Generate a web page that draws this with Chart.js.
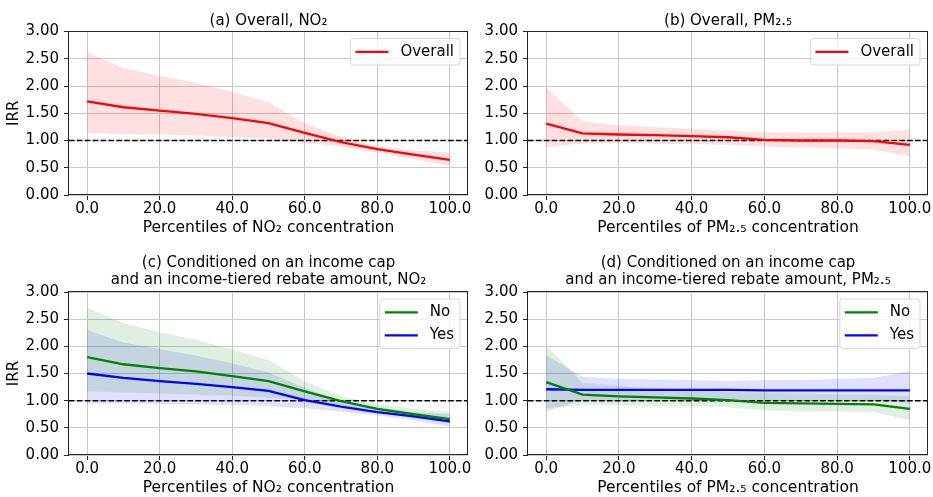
<!DOCTYPE html>
<html><head><meta charset="utf-8">
<script src="https://cdn.jsdelivr.net/npm/chart.js@4.4.1/dist/chart.umd.min.js"></script>
<style>
html,body{margin:0;padding:0;background:#fff;}
#wrap{position:relative;width:933px;height:497px;overflow:hidden;background:#fff;}
.p{position:absolute;}
canvas{display:block;}
</style></head><body>
<div id="wrap">
  <div class="p" style="left:0;top:0;width:478px;height:245px"><canvas id="ca" width="478" height="245"></canvas></div>
  <div class="p" style="left:478px;top:0;width:455px;height:245px"><canvas id="cb" width="455" height="245"></canvas></div>
  <div class="p" style="left:0;top:245px;width:478px;height:252px"><canvas id="cc" width="478" height="252"></canvas></div>
  <div class="p" style="left:478px;top:245px;width:455px;height:252px"><canvas id="cd" width="455" height="252"></canvas></div>
</div>
<script>
// ---------- data ----------
const percentiles = [0, 10, 20, 30, 40, 50, 60, 70, 80, 90, 100];
const xTickValues = [0, 20, 40, 60, 80, 100];
const yTickValues = [0, 0.5, 1, 1.5, 2, 2.5, 3];
const xLimits = [-5, 105];
const yLimits = [0, 3];
const referenceIRR = 1;

// (a) Overall, NO2
const no2Overall     = [1.72, 1.61, 1.55, 1.49, 1.41, 1.32, 1.14, 0.97, 0.84, 0.74, 0.645];
const no2OverallHigh = [2.62, 2.33, 2.19, 2.06, 1.89, 1.70, 1.32, 1.07, 0.89, 0.82, 0.78];
const no2OverallLow  = [1.14, 1.12, 1.11, 1.09, 1.06, 1.04, 0.96, 0.89, 0.78, 0.66, 0.53];

// (b) Overall, PM2.5
const pmOverall     = [1.31, 1.13, 1.11, 1.10, 1.08, 1.06, 1.01, 1.00, 1.00, 0.99, 0.92];
const pmOverallHigh = [1.97, 1.35, 1.28, 1.25, 1.21, 1.18, 1.15, 1.15, 1.15, 1.15, 1.20];
const pmOverallLow  = [0.87, 0.95, 0.95, 0.94, 0.93, 0.92, 0.89, 0.87, 0.86, 0.83, 0.71];

// (c) Conditioned, NO2
const no2No      = [1.80, 1.67, 1.60, 1.54, 1.45, 1.36, 1.17, 0.99, 0.85, 0.75, 0.66];
const no2NoHigh  = [2.71, 2.43, 2.26, 2.12, 1.94, 1.75, 1.36, 1.08, 0.93, 0.85, 0.79];
const no2NoLow   = [1.18, 1.15, 1.13, 1.11, 1.09, 1.06, 1.00, 0.92, 0.80, 0.69, 0.58];
const no2Yes     = [1.50, 1.42, 1.36, 1.31, 1.25, 1.18, 1.01, 0.89, 0.79, 0.71, 0.62];
const no2YesHigh = [2.30, 2.07, 1.95, 1.83, 1.69, 1.52, 1.24, 0.99, 0.87, 0.79, 0.75];
const no2YesLow  = [0.95, 0.95, 0.94, 0.93, 0.92, 0.90, 0.86, 0.80, 0.73, 0.64, 0.52];

// (d) Conditioned, PM2.5
const pmNo      = [1.34, 1.11, 1.08, 1.06, 1.04, 1.01, 0.96, 0.95, 0.94, 0.93, 0.85];
const pmNoHigh  = [2.01, 1.33, 1.27, 1.22, 1.19, 1.16, 1.14, 1.13, 1.12, 1.11, 1.08];
const pmNoLow   = [0.86, 0.93, 0.92, 0.90, 0.90, 0.88, 0.82, 0.80, 0.80, 0.79, 0.64];
const pmYes     = [1.21, 1.20, 1.20, 1.20, 1.20, 1.20, 1.19, 1.19, 1.19, 1.19, 1.19];
const pmYesHigh = [1.84, 1.44, 1.40, 1.39, 1.38, 1.36, 1.38, 1.38, 1.40, 1.42, 1.54];
const pmYesLow  = [0.80, 1.01, 1.00, 1.00, 0.99, 0.98, 0.99, 0.99, 1.00, 1.00, 0.95];

// ---------- helpers ----------
const FONT = '"DejaVu Sans", "Liberation Sans", sans-serif';
const RED = '#ff0000', GREEN = '#008000', BLUE = '#0000ff';

function pts(vals) { return percentiles.map((p, i) => ({x: p, y: vals[i]})); }

function band(upper, lower, rgb) {
  return [
    {data: pts(upper), borderWidth: 0, pointRadius: 0, fill: false, order: 10},
    {data: pts(lower), borderWidth: 0, pointRadius: 0, fill: '-1',
     backgroundColor: 'rgba(' + rgb + ',0.12)', order: 10}
  ];
}
function series(label, vals, color) {
  return {label: label, data: pts(vals), borderColor: color, backgroundColor: color,
          borderWidth: 2.3, pointRadius: 0, fill: false, tension: 0, legend: true, order: 0};
}
function refLine() {
  return {data: [{x: xLimits[0], y: referenceIRR}, {x: xLimits[1], y: referenceIRR}],
          borderColor: '#000', borderWidth: 1.5, borderDash: [5.5, 2.4],
          pointRadius: 0, fill: false, order: 1};
}

const spines = {
  id: 'spines',
  afterDatasetsDraw(chart) {
    const a = chart.chartArea, ctx = chart.ctx;
    ctx.save();
    ctx.strokeStyle = '#262626';
    ctx.lineWidth = 1;
    const l = Math.round(a.left) - 0.5, r = Math.round(a.right) - 0.5;
    const t = Math.round(a.top) - 0.5, b = Math.round(a.bottom) - 0.5;
    ctx.strokeRect(l, t, r - l, b - t);
    ctx.restore();
  }
};

const insetLegend = {
  id: 'insetLegend',
  afterDraw(chart) {
    const items = chart.data.datasets.filter(d => d.legend);
    const ctx = chart.ctx, a = chart.chartArea;
    ctx.save();
    ctx.font = '15px ' + FONT;
    const tw = Math.max.apply(null, items.map(d => ctx.measureText(d.label).width));
    const w = 5 + 33 + 12 + tw + 6;
    const h = 26.5 + (items.length - 1) * 23;
    const x = a.right - 8 - w, y = a.top + 7;
    const rad = 3;
    ctx.beginPath();
    ctx.moveTo(x + rad, y);
    ctx.arcTo(x + w, y, x + w, y + h, rad);
    ctx.arcTo(x + w, y + h, x, y + h, rad);
    ctx.arcTo(x, y + h, x, y, rad);
    ctx.arcTo(x, y, x + w, y, rad);
    ctx.closePath();
    ctx.fillStyle = 'rgba(255,255,255,0.8)';
    ctx.fill();
    ctx.strokeStyle = '#d6d6d6';
    ctx.lineWidth = 1;
    ctx.stroke();
    items.forEach((d, i) => {
      const cy = y + 13.3 + i * 23;
      ctx.beginPath();
      ctx.strokeStyle = d.borderColor;
      ctx.lineWidth = 2.3;
      ctx.moveTo(x + 5, cy);
      ctx.lineTo(x + 38, cy);
      ctx.stroke();
      ctx.fillStyle = '#000';
      ctx.textBaseline = 'middle';
      ctx.textAlign = 'left';
      ctx.fillText(d.label, x + 50, cy);
    });
    ctx.restore();
  }
};

function makePanel(id, cfg) {
  const el = document.getElementById(id);
  return new Chart(el, {
    type: 'line',
    data: {datasets: cfg.datasets},
    plugins: [spines, insetLegend],
    options: {
      responsive: false,
      animation: false,
      devicePixelRatio: 1,
      layout: {padding: {left: 0, right: cfg.padRight, top: 0, bottom: 0}},
      plugins: {
        legend: {display: false},
        tooltip: {enabled: false},
        filler: {drawTime: 'beforeDatasetsDraw', propagate: false},
        title: {
          display: true, text: cfg.title, fullSize: false,
          color: '#000', font: {family: FONT, size: 15, weight: 'normal', lineHeight: 1.1},
          padding: cfg.titlePad
        }
      },
      scales: {
        x: {
          type: 'linear', min: xLimits[0], max: xLimits[1],
          afterBuildTicks: s => { s.ticks = xTickValues.map(v => ({value: v})); },
          afterFit: s => { s.height = cfg.xHeight; },
          ticks: {autoSkip: false, maxRotation: 0, padding: 0.5, color: '#000',
                  font: {family: FONT, size: 15, lineHeight: 1.2},
                  callback: v => Number(v).toFixed(1)},
          grid: {color: '#c8c8c8', lineWidth: 1, drawTicks: true, tickLength: 5,
                 tickColor: '#262626', tickWidth: 1},
          border: {display: false},
          title: {display: true, text: cfg.xTitle, color: '#000',
                  font: {family: FONT, size: 15.5, lineHeight: 1.1},
                  padding: {top: 0, bottom: cfg.xTitlePad}}
        },
        y: {
          type: 'linear', min: yLimits[0], max: yLimits[1],
          afterBuildTicks: s => { s.ticks = yTickValues.map(v => ({value: v})); },
          afterFit: s => { s.width = cfg.yWidth; },
          ticks: {padding: 5, color: '#000', font: {family: FONT, size: 15, lineHeight: 1.2},
                  callback: v => Number(v).toFixed(2)},
          grid: {color: '#c8c8c8', lineWidth: 1, drawTicks: true, tickLength: 5,
                 tickColor: '#262626', tickWidth: 1},
          border: {display: false},
          title: {display: cfg.yTitle !== '', text: cfg.yTitle, color: '#000',
                  font: {family: FONT, size: 15, lineHeight: 1.1},
                  padding: {top: 5.75, bottom: 0}}
        }
      }
    }
  });
}

const topTitlePad = {top: 13, bottom: 2};
const botTitlePad = {top: 10.25, bottom: 3.75};

makePanel('ca', {
  title: '(a) Overall, NO\u2082',
  xTitle: 'Percentiles of NO\u2082 concentration', yTitle: 'IRR',
  titlePad: topTitlePad, xHeight: 50, xTitlePad: 8.7, yWidth: 69, padRight: 10,
  datasets: [series('Overall', no2Overall, RED), refLine(),
             ...band(no2OverallHigh, no2OverallLow, '255,0,0')]
});
makePanel('cb', {
  title: '(b) Overall, PM\u2082.\u2085',
  xTitle: 'Percentiles of PM\u2082.\u2085 concentration', yTitle: '',
  titlePad: topTitlePad, xHeight: 50, xTitlePad: 8.7, yWidth: 50, padRight: 5,
  datasets: [series('Overall', pmOverall, RED), refLine(),
             ...band(pmOverallHigh, pmOverallLow, '255,0,0')]
});
makePanel('cc', {
  title: ['(c) Conditioned on an income cap', 'and an income-tiered rebate amount, NO\u2082'],
  xTitle: 'Percentiles of NO\u2082 concentration', yTitle: 'IRR',
  titlePad: botTitlePad, xHeight: 42, xTitlePad: 0.75, yWidth: 69, padRight: 10,
  datasets: [series('No', no2No, GREEN), series('Yes', no2Yes, BLUE), refLine(),
             ...band(no2NoHigh, no2NoLow, '0,128,0'),
             ...band(no2YesHigh, no2YesLow, '0,0,255')]
});
makePanel('cd', {
  title: ['(d) Conditioned on an income cap', 'and an income-tiered rebate amount, PM\u2082.\u2085'],
  xTitle: 'Percentiles of PM\u2082.\u2085 concentration', yTitle: '',
  titlePad: botTitlePad, xHeight: 42, xTitlePad: 0.75, yWidth: 50, padRight: 5,
  datasets: [series('No', pmNo, GREEN), series('Yes', pmYes, BLUE), refLine(),
             ...band(pmNoHigh, pmNoLow, '0,128,0'),
             ...band(pmYesHigh, pmYesLow, '0,0,255')]
});
</script>
</body></html>
